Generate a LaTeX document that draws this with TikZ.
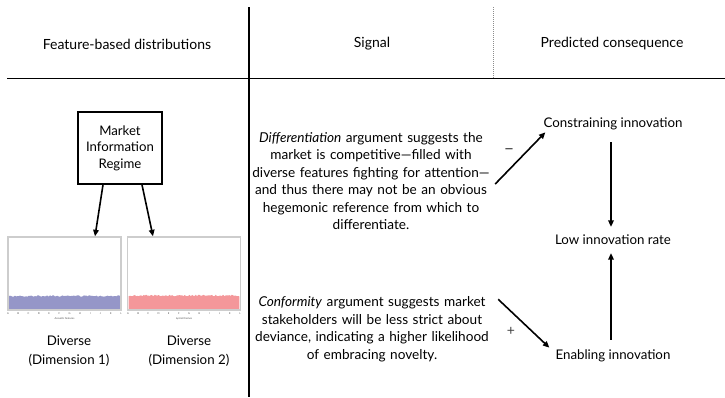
\documentclass[tikz,border=0pt]{standalone}
\usepackage{fontspec}
\setmainfont{Lato}
\usetikzlibrary{arrows.meta}
\definecolor{purp}{RGB}{149,150,200}
\definecolor{pinkr}{RGB}{244,151,154}
\definecolor{frame}{RGB}{205,205,205}
\tikzset{
  hdr/.style={font=\fontsize{14}{16}\selectfont, inner sep=0pt},
  sig/.style={font=\fontsize{13.6}{17.5}\selectfont, align=center, inner sep=0pt, text width=238pt},
  cons/.style={font=\fontsize{13.3}{15}\selectfont, inner sep=0pt},
  arr/.style={line width=1.6pt, -{Triangle[length=6.5pt,width=5.5pt]}},
  chart/.style={draw=frame, line width=1.3pt, minimum width=113pt, minimum height=73pt, inner sep=0pt},
  tick/.style={font=\fontsize{2.6}{3}\selectfont, inner sep=0pt, text=black!70},
  dimlab/.style={font=\fontsize{13.3}{18.5}\selectfont, align=center, inner sep=0pt},
  sgn/.style={font=\fontsize{14}{16}\selectfont, inner sep=0pt, text=black!75}
}
\begin{document}
\begin{tikzpicture}[x=1pt,y=-1pt]
\useasboundingbox (0,0) rectangle (725,397);
% grid lines
\draw[line width=1.8pt] (7,78.5) -- (725,78.5);
\draw[line width=1.3pt] (249,7) -- (249,397);
\draw[line width=1pt, black!45, dash pattern=on 1.2pt off 0.8pt] (493,7) -- (493,78);
% headers
\node[hdr] (h1) at (127,44) {Feature-based distributions};
\node[hdr] (h2) at (372,44) {Signal};
\node[hdr] (h3) at (612,44) {Predicted consequence};
% market box
\node[draw, line width=1.6pt, minimum width=84pt, minimum height=72pt, align=center,
      font=\fontsize{13.2}{16.5}\selectfont] (mir) at (120,148) {Market\\Information\\Regime};
% charts
\pgfmathsetseed{7}
\fill[purp] (8.7,309.3) -- plot[domain=8.7:120.3, samples=90] (\x,{296+0.7*rand}) -- (120.3,309.3) -- cycle;
\fill[pinkr] (128.7,309.3) -- plot[domain=128.7:239.3, samples=90] (\x,{295.5+0.8*rand}) -- (239.3,309.3) -- cycle;
\node[chart] (c1) at (64.5,273.5) {};
\node[chart] (c2) at (184,273.5) {};
\foreach \l [count=\i] in {A,B,C,D,E,F,G,H,I,J,K,L}{
  \node[tick] (ta\i) at ({8+(\i-1)*113/11},314) {\l};
  \node[tick] (tb\i) at ({128+(\i-1)*112/11},314) {\l};
}
\node[tick] (xa) at (64.5,319) {Acoustic features};
\node[tick] (xb) at (184,319) {Lyrical themes};
% arrows from box
\draw[arr] ([xshift=-17pt]mir.south) -- ([xshift=30.5pt]c1.north);
\draw[arr] ([xshift=22pt]mir.south) -- ([xshift=-31pt]c2.north);
% dimension labels
\node[dimlab] (d1) at (69,351) {Diverse\\(Dimension 1)};
\node[dimlab] (d2) at (189,351) {Diverse\\(Dimension 2)};
% signals
\node[sig] (s1) at (371,181) {\textit{Differentiation} argument suggests the\\market is competitive---filled with\\diverse features fighting for attention---\\and thus there may not be an obvious\\hegemonic reference from which to\\differentiate.};
\node[sig] (s2) at (372,329) {\textit{Conformity} argument suggests market\\stakeholders will be less strict about\\deviance, indicating a higher likelihood\\of embracing novelty.};
% consequences
\node[cons] (con) at (613,124) {Constraining innovation};
\node[cons] (low) at (613,240) {Low innovation rate};
\node[cons] (ena) at (613,356) {Enabling innovation};
\draw[arr] ([xshift=5pt,yshift=-3pt]s1.east) -- ([xshift=2pt,yshift=-2pt]con.south west);
\draw[arr] ([xshift=7pt,yshift=-3pt]s2.north east) -- ([xshift=-6pt,yshift=2pt]ena.north west);
\draw[arr] ([xshift=-2pt,yshift=-12pt]con.south) -- ([xshift=-2pt,yshift=8pt]low.north);
\draw[arr] ([xshift=-2pt,yshift=10pt]ena.north) -- ([xshift=-2pt,yshift=-8pt]low.south);
\node[sgn, font=\fontsize{18}{18}\selectfont] (minus) at (509,152) {\textendash};
\node[sgn] (plus) at (511,331) {+};
\end{tikzpicture}
\end{document}
